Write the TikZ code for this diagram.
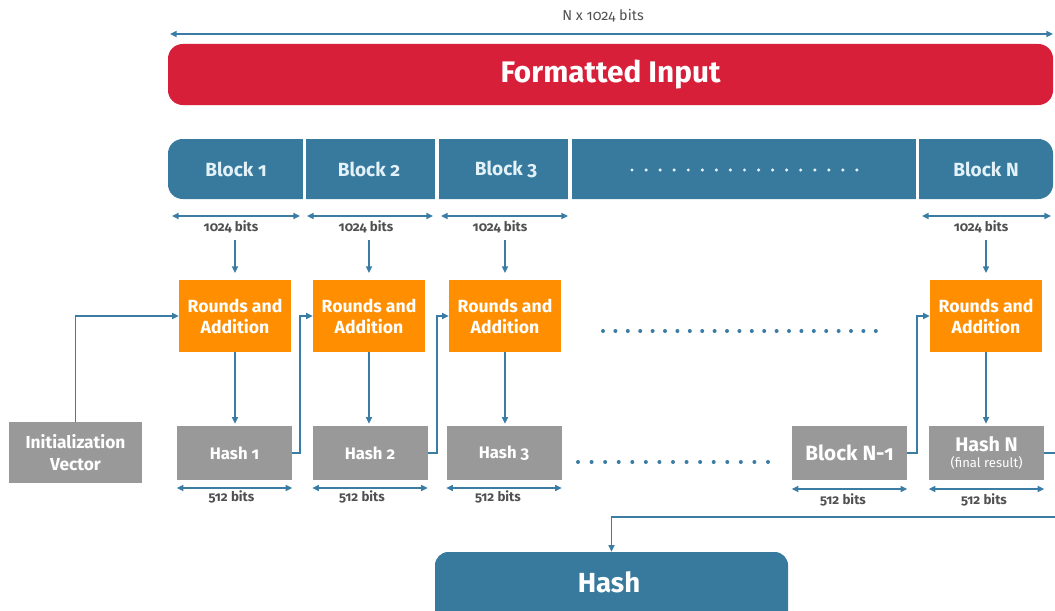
\documentclass[tikz,border=0pt]{standalone}
\usepackage{fontspec}
\setmainfont{Fira Sans}[Numbers=OldStyle]
\usetikzlibrary{arrows.meta}
\definecolor{redc}{HTML}{D71F3A}
\definecolor{bluec}{HTML}{377A9D}
\definecolor{orangec}{HTML}{FF8F00}
\definecolor{grayc}{HTML}{999999}
\definecolor{lighttext}{HTML}{E3F1F8}
\definecolor{labelc}{HTML}{505050}
\definecolor{arrowc}{HTML}{3A7CA3}
\begin{document}
\begin{tikzpicture}[x=0.75pt,y=-0.75pt,
  conn/.style={draw=arrowc, line width=1.2pt, -{Triangle[length=5pt,width=4.5pt]}},
  dim/.style={draw=arrowc, line width=1.2pt, {Triangle[length=5pt,width=4.5pt]}-{Triangle[length=5pt,width=4.5pt]}},
  lbl/.style={text=labelc, font=\bfseries\fontsize{10}{12}\selectfont, inner sep=0},
  orangebox/.style={fill=orangec, text=white, font=\bfseries\fontsize{13.2}{15.75}\selectfont, minimum width=84pt, minimum height=54pt, inner sep=0, align=center},
  graybox/.style={fill=grayc, text=white, font=\bfseries\fontsize{12.5}{14}\selectfont, minimum width=86.25pt, minimum height=40.5pt, inner sep=0, align=center},
  blocktext/.style={text=lighttext, font=\bfseries\fontsize{14.3}{16}\selectfont, inner sep=0},
  dotc/.style={fill=arrowc},
]
\clip (0,0) rectangle (1055,610);

% top dimension and formatted input
\node[text=labelc, font=\fontsize{10.8}{12}\selectfont, inner sep=0] (ntot) at (603,16) {N x 1024 bits};
\coordinate (tl) at (170,34);
\coordinate (tr) at (1053,34);
\draw[dim] (tl) -- (tr);
\node[fill=redc, rounded corners=11pt, minimum width=663.75pt, minimum height=45.75pt, inner sep=0,
      text=white, font=\bfseries\fontsize{22.3}{26}\selectfont] (fi) at (610.5,74.5) {Formatted Input};

% block bar
\fill[bluec, rounded corners=11pt] (168,139) rectangle (1053,199);
\foreach \sx in {304.5,437,570,917.5}
  \draw[white, line width=2.4pt] (\sx,137) -- (\sx,201);
\node[blocktext] (b1) at (236,169) {Block 1};
\node[blocktext] (b2) at (369,169) {Block 2};
\node[blocktext] (b3) at (506,169) {Block 3};
\node[blocktext] (bN) at (986,169) {Block N};
\foreach \i in {0,...,16}
  \fill[lighttext] ({632+\i*14.06},170) circle (1.3pt);

% 1024 bits dims
\coordinate (d1a) at (172,216); \coordinate (d1b) at (300,216);
\coordinate (d2a) at (307,216); \coordinate (d2b) at (433,216);
\coordinate (d3a) at (441,216); \coordinate (d3b) at (568,216);
\coordinate (dNa) at (922,216); \coordinate (dNb) at (1051,216);
\draw[dim] (d1a) -- (d1b);
\draw[dim] (d2a) -- (d2b);
\draw[dim] (d3a) -- (d3b);
\draw[dim] (dNa) -- (dNb);
\node[lbl] (l1) at (231,227) {1024 bits};
\node[lbl] (l2) at (366,227) {1024 bits};
\node[lbl] (l3) at (500,227) {1024 bits};
\node[lbl] (lN) at (981,227) {1024 bits};

% orange boxes
\node[orangebox] (o1) at (235,316) {Rounds and\\Addition};
\node[orangebox] (o2) at (369,316) {Rounds and\\Addition};
\node[orangebox] (o3) at (505,316) {Rounds and\\Addition};
\node[orangebox] (oN) at (986,316) {Rounds and\\Addition};

\draw[conn, shorten <=5pt, shorten >=5pt] (l1.south -| o1.north) -- (o1.north);
\draw[conn, shorten <=5pt, shorten >=5pt] (l2.south -| o2.north) -- (o2.north);
\draw[conn, shorten <=5pt, shorten >=5pt] (l3.south -| o3.north) -- (o3.north);
\draw[conn, shorten <=5pt, shorten >=5pt] (lN.south -| oN.north) -- (oN.north);

% dots between orange boxes
\foreach \i in {0,...,22}
  \fill[dotc] ({603+\i*12.4},331) circle (1.5pt);

% gray boxes
\node[graybox, minimum width=99.75pt, minimum height=45.75pt, font=\bfseries\fontsize{13}{16.5}\selectfont] (iv) at (75.5,452.5) {Initialization\\Vector};
\node[graybox] (h1) at (234.5,453) {Hash 1};
\node[graybox] (h2) at (370,453) {Hash 2};
\node[graybox] (h3) at (504,453) {Hash 3};
\node[graybox, font=\bfseries\fontsize{15.5}{17}\selectfont] (hN1) at (849.5,453) {Block N-1};
\node[graybox] (hN) at (986.5,453) {{\fontsize{14.8}{15}\selectfont Hash N}\\[-2pt]{\mdseries\fontsize{9.8}{10}\selectfont (final result)}};

\foreach \i in {0,...,14}
  \fill[dotc] ({578+\i*13.57},462) circle (1.5pt);

% vertical arrows orange -> hash
\draw[conn, shorten >=1.5pt] (o1.south) -- (o1.south |- h1.north);
\draw[conn, shorten >=1.5pt] (o2.south) -- (o2.south |- h2.north);
\draw[conn, shorten >=1.5pt] (o3.south) -- (o3.south |- h3.north);
\draw[conn, shorten >=1.5pt] (oN.south) -- (oN.south |- hN.north);

% chaining connectors
\draw[conn] (iv.north) |- (o1.west);
\draw[conn] (h1.east) -- ++(8,0) |- (o2.west);
\draw[conn] (h2.east) -- ++(9,0) |- (o3.west);
\draw[conn] (hN1.east) -- ++(10,0) |- (oN.west);

% 512 bits dims
\draw[dim] (h1.west |- 0,488) -- (h1.east |- 0,488);
\draw[dim] (h2.west |- 0,488) -- (h2.east |- 0,488);
\draw[dim] (h3.west |- 0,488) -- (h3.east |- 0,488);
\draw[dim] (hN1.west |- 0,489) -- (hN1.east |- 0,489);
\draw[dim] (hN.west |- 0,489) -- (hN.east |- 0,489);
\node[lbl] (s1) at (231.5,497) {512 bits};
\node[lbl] (s2) at (362,497) {512 bits};
\node[lbl] (s3) at (498,497) {512 bits};
\node[lbl] (sN1) at (843,500) {512 bits};
\node[lbl] (sN) at (984,500) {512 bits};

% final hash
\node[fill=bluec, rounded corners=10pt, minimum width=264.75pt, minimum height=54pt, inner sep=0] (fh) at (611.5,588) {};
\node[text=white, font=\bfseries\fontsize{20.7}{24}\selectfont, inner sep=0] (fht) at (609,582) {Hash};
\coordinate (edge) at (1065,517);
\coordinate (turn) at (611.5,517);
\draw[conn] (hN.east) -| (edge) -- (turn) -- (fh.north);
\end{tikzpicture}
\end{document}
